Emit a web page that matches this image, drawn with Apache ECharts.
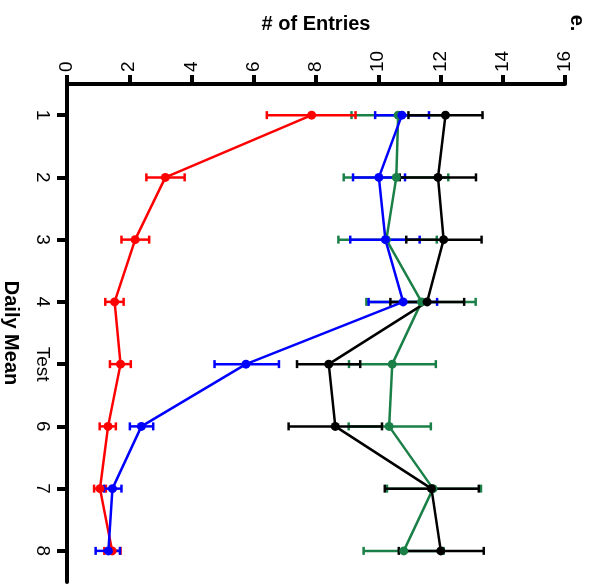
<!DOCTYPE html>
<html>
<head>
<meta charset="utf-8">
<script src="https://cdn.jsdelivr.net/npm/echarts@6/dist/echarts.min.js"></script>
<style>html,body{margin:0;padding:0;background:#fff}#c{width:613px;height:586px}</style>
</head>
<body>
<div id="c"></div>
<script>
var categories = ['1', '2', '3', '4', 'Test', '6', '7', '8'];
var xTicks = [0, 2, 4, 6, 8, 10, 12, 14, 16];

var redMean = [7.86, 3.16, 2.19, 1.53, 1.72, 1.32, 1.06, 1.45];
var redLo   = [6.42, 2.55, 1.75, 1.23, 1.38, 1.05, 0.87, 1.20];
var redHi   = [9.27, 3.78, 2.64, 1.82, 2.05, 1.57, 1.25, 1.72];

var blueMean = [10.76, 10.02, 10.23, 10.80, 5.75, 2.39, 1.46, 1.33];
var blueLo   = [9.90, 9.19, 9.10, 9.69, 4.74, 2.02, 1.19, 0.92];
var blueHi   = [11.63, 10.86, 11.33, 11.89, 6.81, 2.77, 1.75, 1.70];

var greenMean = [10.64, 10.58, 10.26, 11.39, 10.45, 10.35, 11.76, 10.82];
var greenLo   = [9.14, 8.89, 8.72, 9.62, 9.06, 9.05, 10.28, 9.53];
var greenHi   = [12.14, 12.25, 11.88, 13.13, 11.85, 11.69, 13.30, 12.10];

var blackMean = [12.16, 11.92, 12.10, 11.57, 8.41, 8.62, 11.71, 12.01];
var blackLo   = [10.97, 10.69, 10.90, 10.39, 7.39, 7.12, 10.21, 10.66];
var blackHi   = [13.35, 13.14, 13.32, 12.76, 9.42, 10.12, 13.23, 13.39];

var FONT = 'Liberation Sans';

function lineSeries(mean, color) {
  return {
    type: 'line',
    data: mean.map(function (v, i) { return [v, i]; }),
    lineStyle: { color: color, width: 2.5 },
    itemStyle: { color: color },
    symbol: 'circle',
    symbolSize: 9,
    z: 3
  };
}

function errSeries(lo, hi, color) {
  return {
    type: 'custom',
    data: lo.map(function (v, i) { return [v, hi[i], i]; }),
    encode: { x: [0, 1], y: 2 },
    z: 3,
    renderItem: function (params, api) {
      var c = api.value(2);
      var a = api.coord([api.value(0), c]);
      var b = api.coord([api.value(1), c]);
      var h = 4;
      var st = { stroke: color, lineWidth: 2.5 };
      return {
        type: 'group',
        children: [
          { type: 'line', shape: { x1: a[0], y1: a[1], x2: b[0], y2: b[1] }, style: st },
          { type: 'line', shape: { x1: a[0], y1: a[1] - h, x2: a[0], y2: a[1] + h }, style: st },
          { type: 'line', shape: { x1: b[0], y1: b[1] - h, x2: b[0], y2: b[1] + h }, style: st }
        ]
      };
    }
  };
}

var GREEN = '#1b8048';

var chart = echarts.init(document.getElementById('c'), null, { renderer: 'canvas' });
chart.setOption({
  animation: false,
  backgroundColor: '#fff',
  grid: { left: 67, top: 84, width: 498, height: 498, containLabel: false, outerBoundsMode: 'none' },
  xAxis: {
    type: 'value',
    position: 'top',
    min: xTicks[0],
    max: xTicks[xTicks.length - 1],
    interval: 2,
    name: '# of Entries',
    nameLocation: 'middle',
    nameGap: 50,
    nameTextStyle: { fontFamily: FONT, fontWeight: 'bold', fontSize: 20, color: '#000' },
    splitLine: { show: false },
    axisLine: { show: true, lineStyle: { color: '#000', width: 4 } },
    axisTick: { show: true, length: 9, lineStyle: { color: '#000', width: 4 } },
    axisLabel: { rotate: -90, margin: 12, fontFamily: FONT, fontSize: 19, color: '#000' }
  },
  yAxis: {
    type: 'category',
    data: categories,
    inverse: true,
    name: 'Daily Mean',
    nameLocation: 'middle',
    nameRotate: -90,
    nameGap: 46,
    nameTextStyle: { fontFamily: FONT, fontWeight: 'bold', fontSize: 20, color: '#000' },
    axisLine: { show: true, lineStyle: { color: '#000', width: 4 } },
    axisTick: { show: true, alignWithLabel: true, length: 10, lineStyle: { color: '#000', width: 4 } },
    axisLabel: { rotate: -90, margin: 15, fontFamily: FONT, fontSize: 19, color: '#000' },
    splitLine: { show: false }
  },
  graphic: [{
    type: 'text',
    x: 577, y: 23,
    rotation: -Math.PI / 2,
    style: { text: 'e.', font: 'bold 20px "Liberation Sans"', fill: '#000', align: 'center', verticalAlign: 'middle' }
  }],
  series: [
    errSeries(greenLo, greenHi, GREEN), lineSeries(greenMean, GREEN),
    errSeries(redLo, redHi, '#ff0000'), lineSeries(redMean, '#ff0000'),
    errSeries(blueLo, blueHi, '#0000ff'), lineSeries(blueMean, '#0000ff'),
    errSeries(blackLo, blackHi, '#000000'), lineSeries(blackMean, '#000000')
  ]
});
</script>
</body>
</html>
